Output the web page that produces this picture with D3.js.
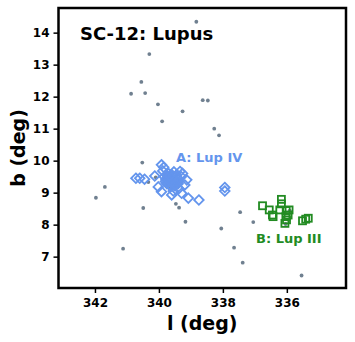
<!DOCTYPE html>
<html><head><meta charset="utf-8">
<script src="https://cdn.jsdelivr.net/npm/d3@7"></script>
<style>body{margin:0;background:#fff}svg{display:block}text{font-family:"DejaVu Sans",sans-serif;font-weight:bold}</style>
</head><body><div id="chart"></div>
<script>
const xTicks = [342, 340, 338, 336];
const yTicks = [7, 8, 9, 10, 11, 12, 13, 14];
const title = "SC-12: Lupus";
const xLabel = "l (deg)";
const yLabel = "b (deg)";
const bgL = [338.83,340.30,340.55,340.87,340.43,340.03,339.26,339.90,338.63,338.47,338.27,338.12,340.52,340.10,340.33,340.49,339.47,339.37,339.17,338.05,337.46,337.05,337.38,337.65,341.12,335.54,341.69,341.97,335.91,336.04,339.66];
const bgB = [14.34,13.33,12.46,12.09,12.11,11.76,11.54,11.23,11.89,11.88,11.00,10.79,9.94,9.48,9.33,8.52,8.65,8.53,8.09,7.88,8.39,8.08,6.81,7.28,7.25,6.41,9.18,8.84,8.44,8.02,9.12];
const aL = [340.72,340.60,340.45,339.92,339.85,339.34,339.26,340.13,339.92,339.60,339.29,339.08,338.75,339.19,339.13,337.94,337.94,339.70,339.57,339.48,339.75,339.62,339.40,339.53,339.80,339.38,339.30,340.02,339.70,339.55,339.88,339.45,
            339.65,339.58,339.72,339.50,339.44,339.78,339.68,339.52,339.60,339.74,339.47,339.83,339.63,339.56,339.42,339.70,339.66,339.49];
const aB = [9.45,9.45,9.42,9.87,9.79,9.66,9.60,9.52,9.03,8.93,8.98,8.83,8.77,9.24,9.40,9.16,9.05,9.45,9.52,9.40,9.28,9.20,9.28,9.65,9.35,9.12,9.50,9.18,9.60,9.05,9.68,9.55,
            9.38,9.44,9.50,9.33,9.46,9.42,9.25,9.22,9.56,9.32,9.38,9.50,9.47,9.30,9.36,9.40,9.52,9.26];
const bL = [336.76,336.55,336.45,336.43,336.17,336.17,336.22,336.02,335.93,336.03,335.96,336.06,336.01,335.51,335.41,335.33];
const bB = [8.59,8.46,8.30,8.25,8.79,8.65,8.46,8.44,8.46,8.25,8.30,8.04,8.15,8.12,8.17,8.20];
const labelA = "A: Lup IV", labelB = "B: Lup III";

const W = 355, H = 342;
const m = {l:58.5, r:346, t:8, b:288};
const svg = d3.select("#chart").append("svg").attr("width", W).attr("height", H);
const x = d3.scaleLinear().domain([343.14, 334.15]).range([m.l, m.r]);
const y = d3.scaleLinear().domain([6.02, 14.77]).range([m.b, m.t]);

// background points
svg.append("g").selectAll("circle").data(bgL).join("circle")
  .attr("cx", (d,i)=>x(d)).attr("cy", (d,i)=>y(bgB[i])).attr("r", 1.9).attr("fill", "#708090");

// A diamonds
const ds = 4.8;
svg.append("g").selectAll("path").data(aL).join("path")
  .attr("transform", (d,i)=>`translate(${x(d)},${y(aB[i])})`)
  .attr("d", `M0,${-ds}L${ds},0L0,${ds}L${-ds},0Z`)
  .attr("fill", "none").attr("stroke", "#6495ED").attr("stroke-width", 1.8);

// B squares
const sq = 7;
svg.append("g").selectAll("rect").data(bL).join("rect")
  .attr("x", (d,i)=>x(d)-sq/2).attr("y", (d,i)=>y(bB[i])-sq/2)
  .attr("width", sq).attr("height", sq)
  .attr("fill", "none").attr("stroke", "#228B22").attr("stroke-width", 1.8);

// labels
svg.append("text").attr("x", 176).attr("y", 162).attr("font-size", 13).attr("fill", "#6495ED").text(labelA);
svg.append("text").attr("x", 256).attr("y", 243).attr("font-size", 13).attr("fill", "#228B22").text(labelB);
svg.append("text").attr("x", 80).attr("y", 40).attr("font-size", 18).attr("fill", "#000").text(title);

// axes
const xa = svg.append("g").attr("transform", `translate(0,${m.b})`)
  .call(d3.axisBottom(x).tickValues(xTicks).tickFormat(d3.format("d")).tickSize(5).tickPadding(5));
const ya = svg.append("g").attr("transform", `translate(${m.l},0)`)
  .call(d3.axisLeft(y).tickValues(yTicks).tickFormat(d3.format("d")).tickSize(5).tickPadding(4));
[xa, ya].forEach(g=>{
  g.select(".domain").remove();
  g.selectAll("line").attr("stroke", "#000").attr("stroke-width", 1.5);
  g.selectAll("text").attr("font-size", 12).attr("font-weight", "bold").attr("font-family", "DejaVu Sans").attr("fill", "#000");
});
svg.append("rect").attr("x", m.l).attr("y", m.t).attr("width", m.r-m.l).attr("height", m.b-m.t)
  .attr("fill", "none").attr("stroke", "#000").attr("stroke-width", 2.5);

svg.append("text").attr("x", (m.l+m.r)/2).attr("y", 330).attr("text-anchor", "middle").attr("font-size", 19).text(xLabel);
svg.append("text").attr("transform", `translate(25,${(m.t+m.b)/2}) rotate(-90)`).attr("text-anchor", "middle").attr("font-size", 19).text(yLabel);
</script></body></html>
